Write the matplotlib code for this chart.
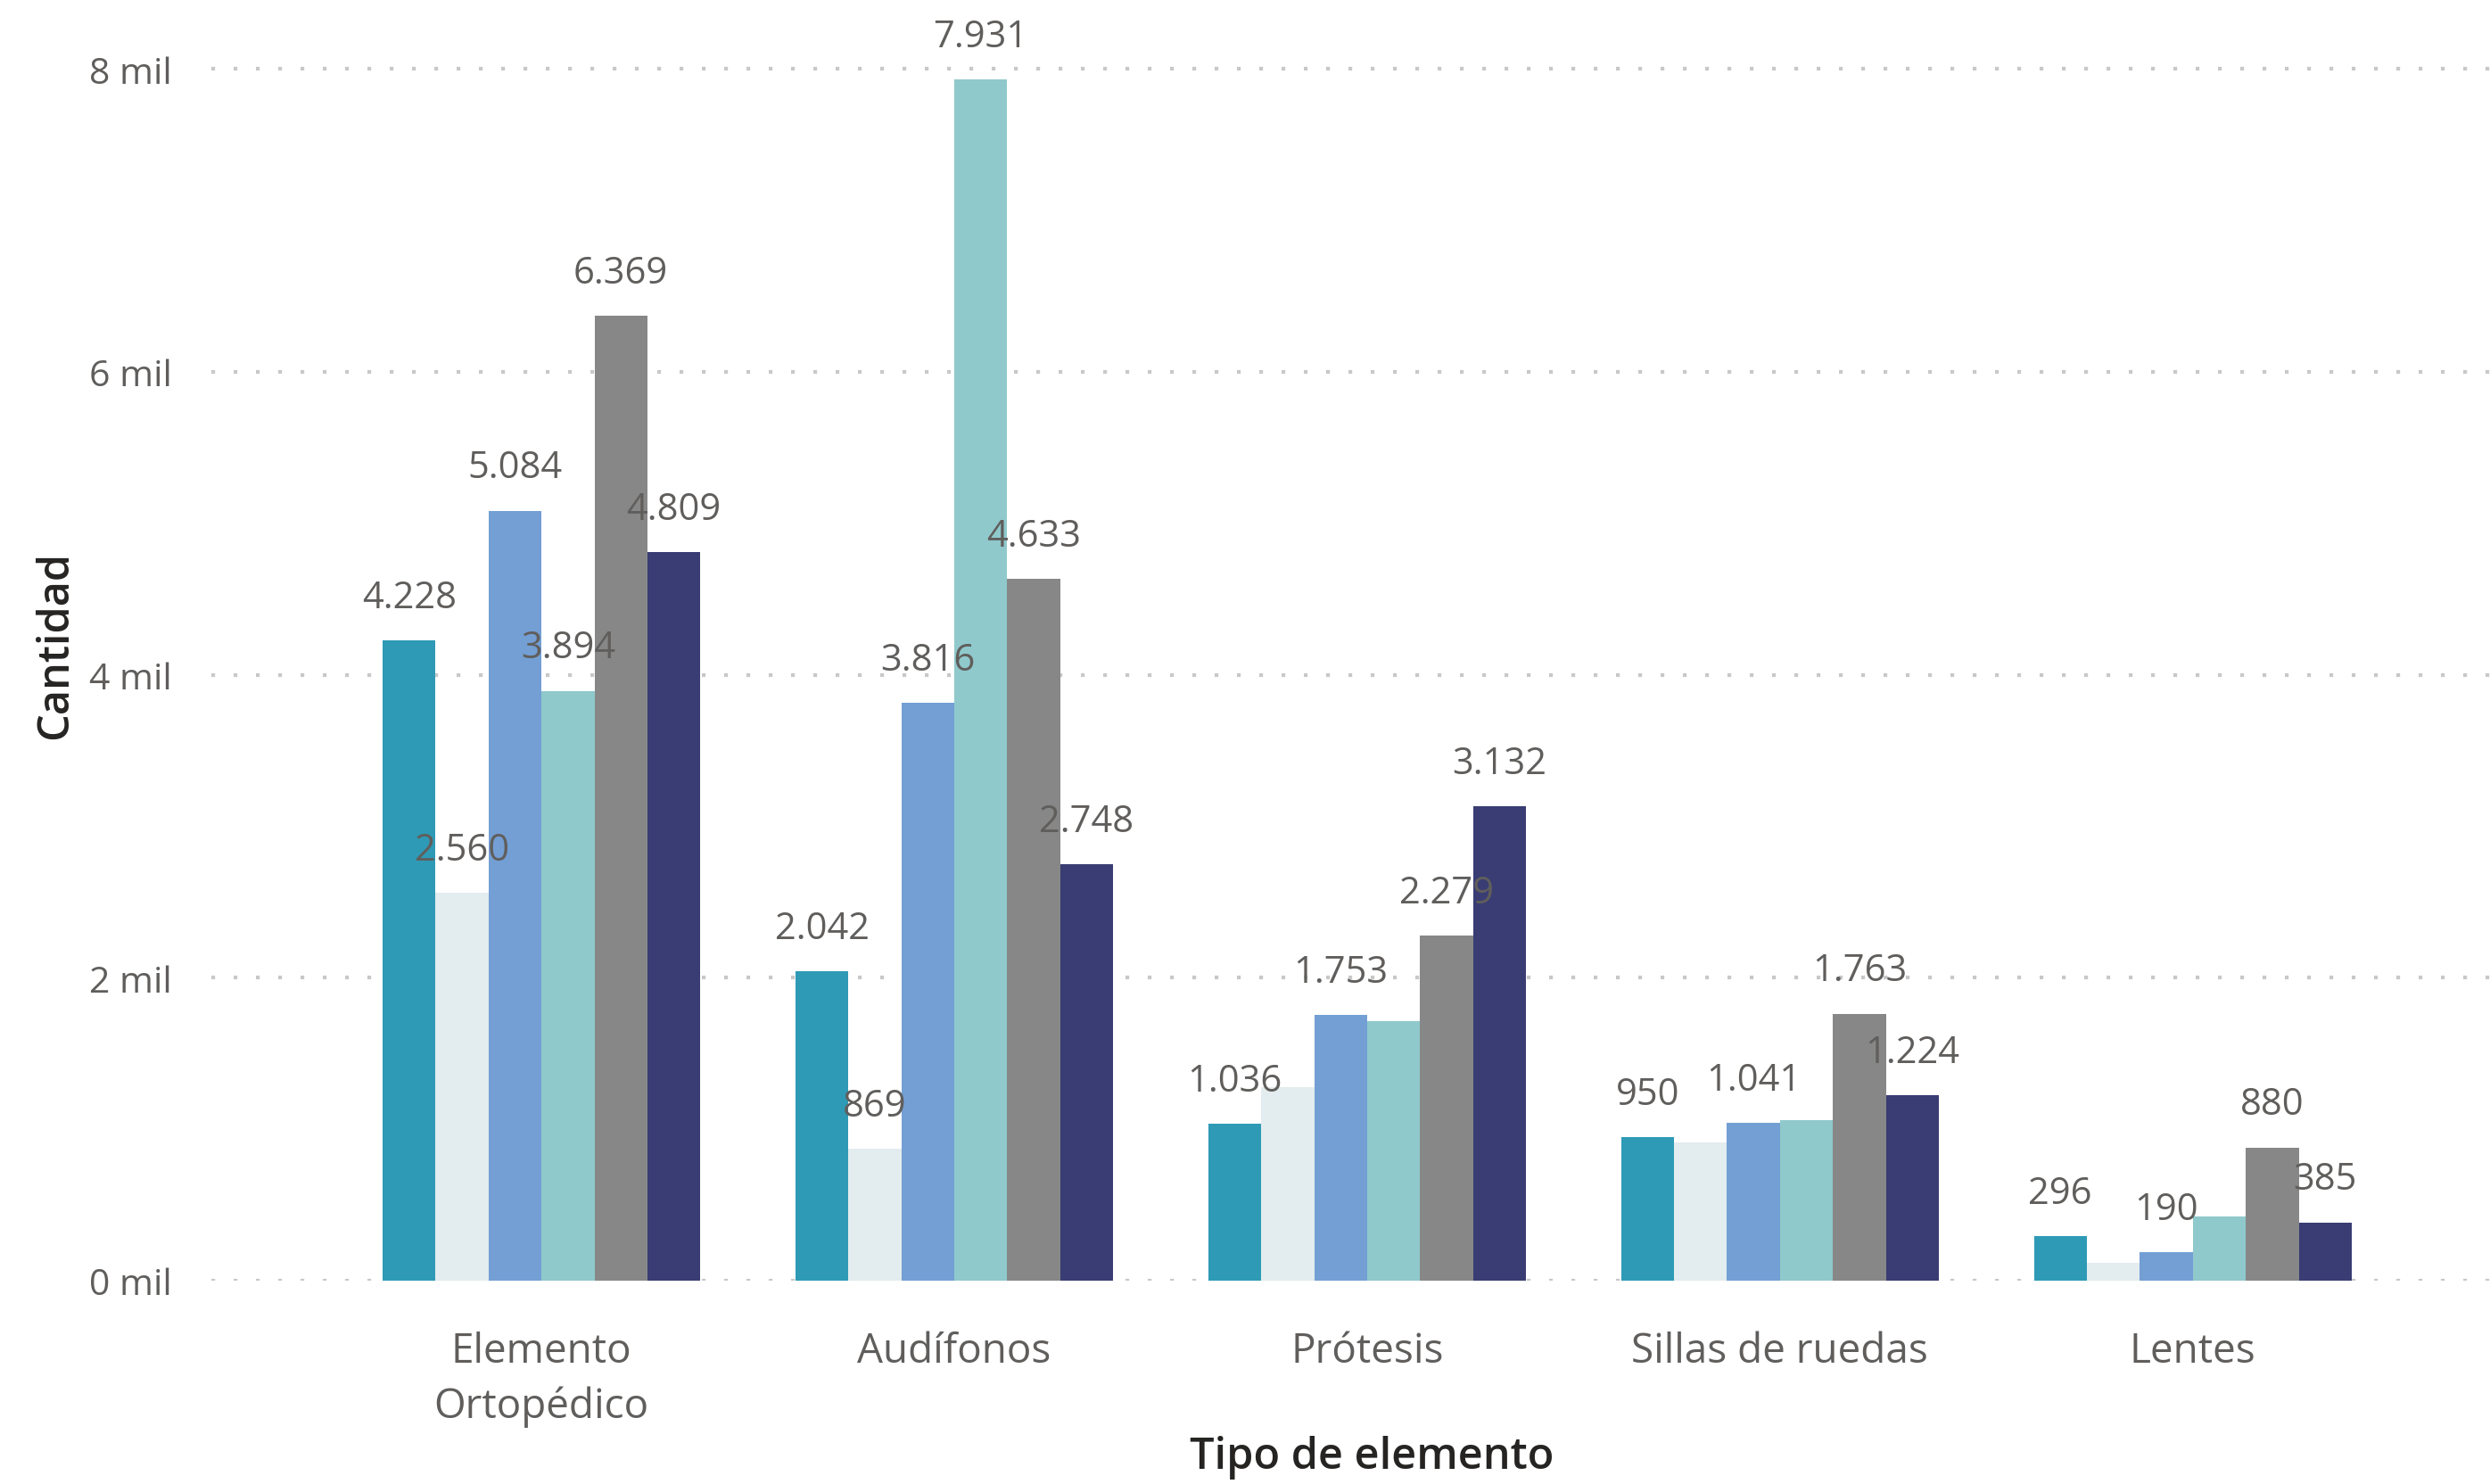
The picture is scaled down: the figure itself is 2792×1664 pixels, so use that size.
import matplotlib as mpl
import matplotlib.pyplot as plt
import numpy as np

mpl.rcParams["font.family"] = ["Open Sans", "DejaVu Sans"]

# datos
categorias = ["Elemento\nOrtopédico", "Audífonos", "Prótesis", "Sillas de ruedas", "Lentes"]
serie1 = [4228, 2042, 1036, 950, 296]
serie2 = [2560, 869, 1276, 912, 118]
serie3 = [5084, 3816, 1753, 1041, 190]
serie4 = [3894, 7931, 1712, 1063, 425]
serie5 = [6369, 4633, 2279, 1763, 880]
serie6 = [4809, 2748, 3132, 1224, 385]
# etiquetas visibles (Power BI oculta algunas)
mostrar2 = [True, True, False, False, False]
mostrar4 = [True, True, False, False, False]

series = [serie1, serie2, serie3, serie4, serie5, serie6]
mostrar = [[True] * 5, mostrar2, [True] * 5, mostrar4, [True] * 5, [True] * 5]
colores = ["#2E9AB6", "#E3ECEE", "#739FD4", "#8FC9CC", "#878787", "#393D73"]

def fmt(v):
    return "{:,}".format(v).replace(",", ".")

fig = plt.figure(figsize=(27.92, 16.65), dpi=100)
ax = fig.add_axes([133 / 1568, 1 - 807 / 935, 1 - 133 / 1568, (807 - 5.8) / 935])

x = np.arange(len(categorias))
ancho = 0.77 / 6
for i, s in enumerate(series):
    pos = x - 0.77 / 2 + ancho * (i + 0.5)
    ax.bar(pos, s, ancho, color=colores[i], zorder=3)
    for xx, yy, m in zip(pos, s, mostrar[i]):
        if m:
            ax.text(xx, yy + 160, fmt(yy), ha="center", va="bottom",
                    fontsize=30, color="#605E5C", zorder=4)

ax.set_xlim(-0.8, 4.72)
ax.set_ylim(0, 8400)
ax.set_yticks([0, 2000, 4000, 6000, 8000])
ax.set_yticklabels(["0 mil", "2 mil", "4 mil", "6 mil", "8 mil"])
ax.set_xticks(x)
ax.set_xticklabels(categorias, linespacing=1.45)
ax.tick_params(axis="y", length=0, pad=32, labelsize=29.5, labelcolor="#605E5C")
ax.tick_params(axis="x", length=0, pad=40, labelsize=33, labelcolor="#605E5C")
ax.grid(axis="y", color="#C8C8C8", linestyle=(0, (1, 5)), linewidth=3, zorder=0)
for sp in ax.spines.values():
    sp.set_visible(False)

ax.set_xlabel("Tipo de elemento", fontsize=35, color="#252423", fontweight="semibold")
ax.xaxis.set_label_coords((864 - 133) / (1568 - 133), -(918 - 807) / (807 - 5.8), transform=ax.transAxes)
ax.xaxis.label.set_va("center")
ax.set_ylabel("Cantidad", fontsize=35, color="#252423", fontweight="semibold")
ax.yaxis.set_label_coords(-(133 - 35) / (1568 - 133), 0.5)
ax.yaxis.label.set_va("center")

plt.savefig("out.png", dpi=100)
